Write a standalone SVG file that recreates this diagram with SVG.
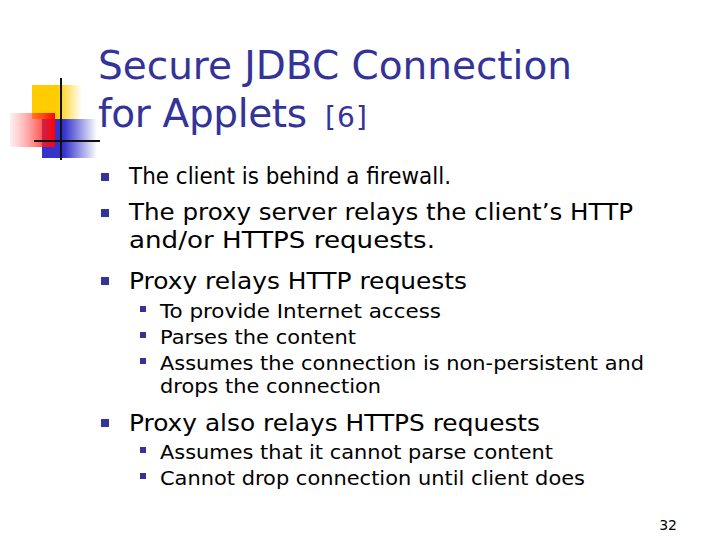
<svg xmlns="http://www.w3.org/2000/svg" width="720" height="540" viewBox="0 0 720 540">
<defs>
<linearGradient id="gy" x1="0" x2="1"><stop offset="0.5" stop-color="#ffcc00"/><stop offset="1" stop-color="#ffcc00" stop-opacity="0"/></linearGradient>
<linearGradient id="gr" x1="1" x2="0"><stop offset="0" stop-color="#ff0000"/><stop offset="1" stop-color="#ff6666" stop-opacity="0.1"/></linearGradient>
<linearGradient id="gb" x1="0" x2="1"><stop offset="0.4" stop-color="#3333cc"/><stop offset="1" stop-color="#3333cc" stop-opacity="0"/></linearGradient>
<style>
.t{font-family:"DejaVu Sans",sans-serif;fill:#333399}
.b{font-family:"DejaVu Sans",sans-serif;fill:#000}
.l1{font-size:23px}.l2{font-size:19px}
.m{fill:#333399}
</style>
</defs>
<rect width="720" height="540" fill="#fff"/>
<g id="logo">
<rect x="32" y="85" width="50" height="34" fill="url(#gy)"/>
<rect x="42" y="119" width="55" height="39" fill="url(#gb)"/>
<rect x="10" y="113" width="45" height="34" fill="url(#gr)"/>
<line x1="61" y1="78" x2="61" y2="160" stroke="#111" stroke-width="2"/>
<line x1="34" y1="141" x2="100" y2="141" stroke="#111" stroke-width="2"/>
</g>
<g id="title" class="t" font-size="39">
<text x="98" y="79" textLength="474">Secure JDBC Connection</text>
<text x="98" y="127"><tspan textLength="209">for Applets</tspan><tspan x="325" font-size="28" textLength="42">[6]</tspan></text>
</g>
<g id="bullets">
<rect class="m" x="101" y="173" width="8" height="8"/>
<rect class="m" x="101" y="209" width="8" height="8"/>
<rect class="m" x="101" y="277" width="8" height="8"/>
<rect class="m" x="101" y="419" width="8" height="8"/>
<rect class="m" x="140" y="306" width="6" height="6"/>
<rect class="m" x="140" y="332" width="6" height="6"/>
<rect class="m" x="140" y="358" width="6" height="6"/>
<rect class="m" x="140" y="447" width="6" height="6"/>
<rect class="m" x="140" y="473" width="6" height="6"/>
<g class="b l1">
<text x="129" y="184" textLength="322" lengthAdjust="spacingAndGlyphs">The client is behind a firewall.</text>
<text x="129" y="220" textLength="504" lengthAdjust="spacingAndGlyphs">The proxy server relays the client’s HTTP</text>
<text x="129" y="248" textLength="306" lengthAdjust="spacingAndGlyphs">and/or HTTPS requests.</text>
<text x="129" y="289" textLength="338" lengthAdjust="spacingAndGlyphs">Proxy relays HTTP requests</text>
<text x="129" y="431" textLength="411" lengthAdjust="spacingAndGlyphs">Proxy also relays HTTPS requests</text>
</g>
<g class="b l2">
<text x="160" y="318" textLength="281" lengthAdjust="spacingAndGlyphs">To provide Internet access</text>
<text x="160" y="344" textLength="196" lengthAdjust="spacingAndGlyphs">Parses the content</text>
<text x="160" y="370" textLength="484" lengthAdjust="spacingAndGlyphs">Assumes the connection is non-persistent and</text>
<text x="160" y="393" textLength="221" lengthAdjust="spacingAndGlyphs">drops the connection</text>
<text x="160" y="459" textLength="393" lengthAdjust="spacingAndGlyphs">Assumes that it cannot parse content</text>
<text x="160" y="485" textLength="425" lengthAdjust="spacingAndGlyphs">Cannot drop connection until client does</text>
</g>
</g>
<text x="677" y="530" font-family="DejaVu Sans,sans-serif" font-size="14" text-anchor="end">32</text>
</svg>
